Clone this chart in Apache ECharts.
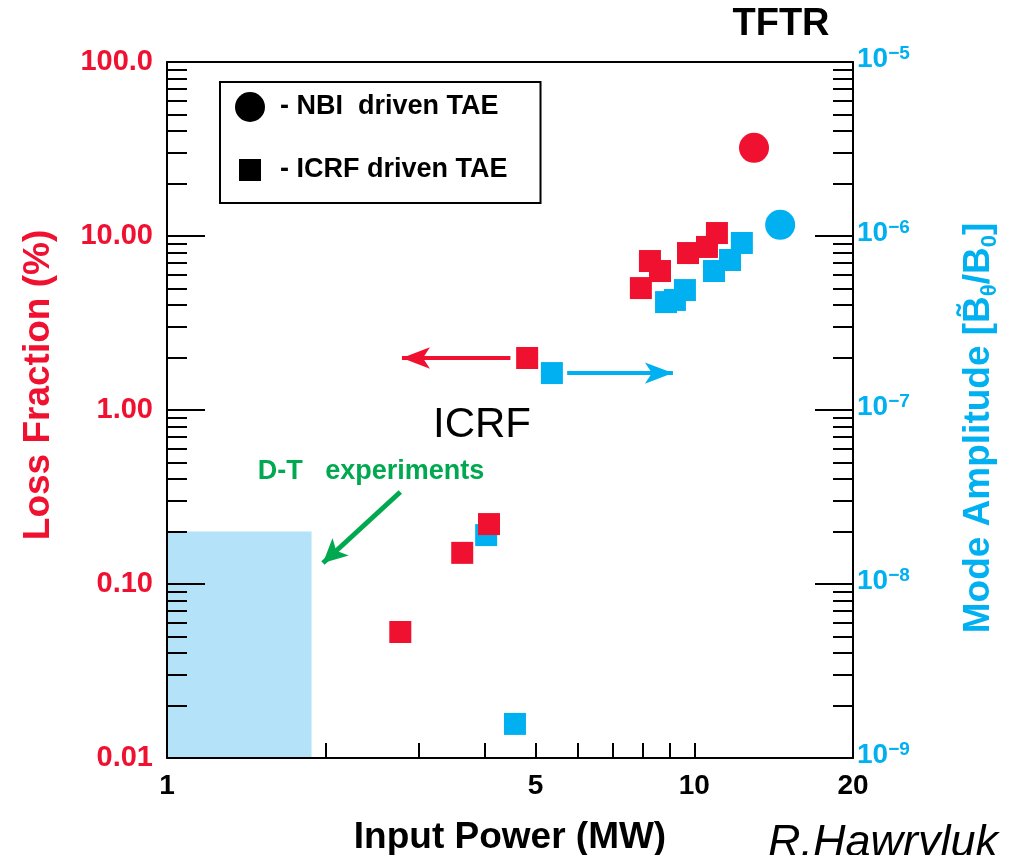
<!DOCTYPE html>
<html>
<head>
<meta charset="utf-8">
<title>TFTR TAE loss fraction</title>
<script src="https://cdn.jsdelivr.net/npm/echarts@6.0.0/dist/echarts.min.js"></script>
<style>
  html, body { margin: 0; padding: 0; background: #fff; }
  #chart { width: 1017px; height: 855px; }
</style>
</head>
<body>
<div id="chart"></div>
<script>
// input power (MW) vs loss fraction (%) -- left axis
const icrfLoss = [[2.77, 0.053], [3.63, 0.151], [4.08, 0.221], [4.82, 1.99], [7.92, 5.02],
  [8.24, 7.18], [8.61, 6.29], [9.73, 7.98], [10.57, 8.65], [11.04, 10.4]];
const nbiLoss = [[12.98, 32.1]];
// input power (MW) vs mode amplitude -- right axis
const icrfAmplitude = [[4.03, 1.91e-8], [4.57, 1.57e-9], [5.37, 1.63e-7], [8.84, 4.17e-7],
  [9.19, 4.29e-7], [9.60, 4.89e-7], [10.90, 6.29e-7], [11.69, 7.28e-7], [12.31, 9.12e-7]];
const nbiAmplitude = [[14.55, 1.16e-6]];

const xTickValues = [2, 3, 4, 5, 6, 7, 8, 9, 10];
const xLabelValues = [1, 5, 10, 20];
const lossTickValues = [0.01, 0.1, 1, 10, 100];
const lossTickLabels = ['0.01', '0.10', '1.00', '10.00', '100.0'];
const ampTickValues = [1e-9, 1e-8, 1e-7, 1e-6, 1e-5];
const ampTickExponents = ['\u22129', '\u22128', '\u22127', '\u22126', '\u22125'];

// D-T experiments region and annotation arrows (data coordinates, arrow tip last)
const dtRegion = [[1, 0.01], [1.88, 0.2]];
const lossArrow = [[4.48, 1.99], [2.79, 1.99]];
const ampArrow = [[5.74, 1.63e-7], [9.11, 1.63e-7]];
const dtArrow = [[2.77, 0.338], [1.976, 0.132]];

const RED = '#f0102f';
const BLUE = '#00b0f0';
const GREEN = '#00a850';
const SANS = '"Liberation Sans", Arial, Helvetica, sans-serif';

const minorTicks = (lo, hi) => {
  const out = [];
  for (let d = lo; d < hi * 0.999; d *= 10) {
    for (let k = 2; k <= 9; k++) out.push(+(d * k).toPrecision(3));
  }
  return out;
};
const findTick = (list, v) => list.findIndex(t => Math.abs(Math.log10(t) - Math.log10(v)) < 1e-6);

const blackLine = { show: true, onZero: false, lineStyle: { color: '#000', width: 2 } };
const tickStyle = { color: '#000', width: 2 };

const chart = echarts.init(document.getElementById('chart'));

const option = {
  animation: false,
  backgroundColor: '#fff',
  grid: { left: 167, right: 164, top: 62, bottom: 97, containLabel: false, outerBoundsMode: 'none' },
  legend: {
    left: 220,
    top: 82,
    orient: 'vertical',
    selectedMode: false,
    padding: [10, 33, 18, 15],
    itemGap: 33,
    itemWidth: 30,
    itemHeight: 30,
    borderColor: '#000',
    borderWidth: 2,
    backgroundColor: '#fff',
    textStyle: { color: '#000', fontFamily: SANS, fontWeight: 'bold', fontSize: 27, padding: [0, 0, 0, 10] },
    data: [
      { name: '- NBI  driven TAE', icon: 'circle', itemStyle: { color: '#000' } },
      { name: '- ICRF driven TAE', icon: 'path://M-0.18,-0.18M1.18,1.18M0,0h1v1h-1z', itemStyle: { color: '#000' } }
    ]
  },
  xAxis: [
    {
      type: 'log', logBase: 10, min: 1, max: 20, position: 'bottom', z: 10,
      axisLine: blackLine,
      axisTick: { show: true, inside: true, length: 15, customValues: xTickValues, lineStyle: tickStyle },
      axisLabel: { customValues: xLabelValues, color: '#000', fontFamily: SANS, fontWeight: 'bold', fontSize: 28, margin: 14 },
      splitLine: { show: false },
      name: 'Input Power (MW)',
      nameLocation: 'middle',
      nameGap: 61,
      nameTextStyle: { color: '#000', fontFamily: SANS, fontWeight: 'bold', fontSize: 37 }
    },
    {
      type: 'log', logBase: 10, min: 1, max: 20, position: 'top', z: 10,
      axisLine: blackLine,
      axisTick: { show: false },
      axisLabel: { show: false },
      splitLine: { show: false }
    }
  ],
  yAxis: [
    {
      type: 'log', logBase: 10, min: 0.01, max: 100, position: 'left', z: 10,
      axisLine: blackLine,
      axisTick: { show: true, inside: true, length: 38, customValues: lossTickValues, lineStyle: tickStyle },
      axisLabel: {
        customValues: lossTickValues,
        formatter: v => { const i = findTick(lossTickValues, v); return i >= 0 ? lossTickLabels[i] : ''; },
        color: RED, fontFamily: SANS, fontWeight: 'bold', fontSize: 29, margin: 14
      },
      splitLine: { show: false },
      name: 'Loss Fraction (%)',
      nameLocation: 'middle',
      nameRotate: 90,
      nameGap: 110,
      nameTextStyle: { color: RED, fontFamily: SANS, fontWeight: 'bold', fontSize: 37, padding: [0, 0, 0, 50] }
    },
    {
      type: 'log', logBase: 10, min: 0.01, max: 100, position: 'left', z: 10,
      axisLine: { show: false },
      axisTick: { show: true, inside: true, length: 20, customValues: minorTicks(0.01, 100), lineStyle: tickStyle },
      axisLabel: { show: false },
      splitLine: { show: false }
    },
    {
      type: 'log', logBase: 10, min: 1e-9, max: 1e-5, position: 'right', z: 10,
      axisLine: blackLine,
      axisTick: { show: true, inside: true, length: 38, customValues: ampTickValues, lineStyle: tickStyle },
      axisLabel: {
        customValues: ampTickValues,
        formatter: v => { const i = findTick(ampTickValues, v); return i >= 0 ? '{b|10}{s|' + ampTickExponents[i] + '}' : ''; },
        margin: 4,
        padding: [0, 0, 6, 0],
        rich: {
          b: { color: BLUE, fontFamily: SANS, fontWeight: 'bold', fontSize: 28, lineHeight: 30 },
          s: { color: BLUE, fontFamily: SANS, fontWeight: 'bold', fontSize: 19, lineHeight: 18, verticalAlign: 'top' }
        }
      },
      splitLine: { show: false },
      name: 'Mode Amplitude [B\u0303{s|\u03b8}/B{s|0}]',
      nameLocation: 'middle',
      nameRotate: 90,
      nameGap: 104,
      nameTextStyle: {
        color: BLUE, fontFamily: SANS, fontWeight: 'bold', fontSize: 37, lineHeight: 44, padding: [0, 36, 0, 0],
        rich: {
          s: { color: BLUE, fontFamily: SANS, fontWeight: 'bold', fontSize: 22, lineHeight: 22, verticalAlign: 'bottom' }
        }
      }
    },
    {
      type: 'log', logBase: 10, min: 1e-9, max: 1e-5, position: 'right', z: 10,
      axisLine: { show: false },
      axisTick: { show: true, inside: true, length: 20, customValues: minorTicks(1e-9, 1e-5), lineStyle: tickStyle },
      axisLabel: { show: false },
      splitLine: { show: false }
    }
  ],
  graphic: [
    { type: 'text', x: 781, y: 25, style: { text: 'TFTR', fill: '#000', font: 'bold 38px ' + SANS, align: 'center', verticalAlign: 'middle' } },
    { type: 'text', x: 482, y: 425, style: { text: 'ICRF', fill: '#000', font: '42px ' + SANS, align: 'center', verticalAlign: 'middle' } },
    { type: 'text', x: 371, y: 472, style: { text: 'D-T   experiments', fill: GREEN, font: 'bold 27px ' + SANS, align: 'center', verticalAlign: 'middle' } },
    { type: 'text', x: 768, y: 843, style: { text: 'R.Hawryluk', fill: '#000', font: 'italic 45px ' + SANS, align: 'left', verticalAlign: 'middle' } }
  ],
  series: [
    {
      name: '- ICRF driven TAE', type: 'scatter', xAxisIndex: 0, yAxisIndex: 2,
      symbol: 'rect', symbolSize: 22, itemStyle: { color: BLUE, opacity: 1 },
      data: icrfAmplitude,
      markLine: {
        silent: true, symbol: ['none', 'arrow'], symbolSize: [16, 28], label: { show: false },
        lineStyle: { color: BLUE, width: 4, type: 'solid' },
        data: [[{ coord: ampArrow[0] }, { coord: ampArrow[1] }]]
      }
    },
    {
      name: '- NBI  driven TAE', type: 'scatter', xAxisIndex: 0, yAxisIndex: 2,
      symbol: 'circle', symbolSize: 30, itemStyle: { color: BLUE, opacity: 1 },
      data: nbiAmplitude
    },
    {
      name: 'dt', type: 'scatter', xAxisIndex: 0, yAxisIndex: 0, data: [],
      markArea: {
        silent: true, itemStyle: { color: '#b4e2f8', opacity: 1 },
        data: [[{ coord: dtRegion[0] }, { coord: dtRegion[1] }]]
      },
      markLine: {
        silent: true, symbol: ['none', 'arrow'], symbolSize: [18, 24], label: { show: false },
        lineStyle: { color: GREEN, width: 5, type: 'solid' },
        data: [[{ coord: dtArrow[0] }, { coord: dtArrow[1] }]]
      }
    },
    {
      name: '- ICRF driven TAE', type: 'scatter', xAxisIndex: 0, yAxisIndex: 0,
      symbol: 'rect', symbolSize: 22, itemStyle: { color: RED, opacity: 1 },
      data: icrfLoss,
      markLine: {
        silent: true, symbol: ['none', 'arrow'], symbolSize: [16, 28], label: { show: false },
        lineStyle: { color: RED, width: 4, type: 'solid' },
        data: [[{ coord: lossArrow[0] }, { coord: lossArrow[1] }]]
      }
    },
    {
      name: '- NBI  driven TAE', type: 'scatter', xAxisIndex: 0, yAxisIndex: 0,
      symbol: 'circle', symbolSize: 30, itemStyle: { color: RED, opacity: 1 },
      data: nbiLoss
    }
  ]
};

chart.setOption(option, true);
</script>
</body>
</html>
